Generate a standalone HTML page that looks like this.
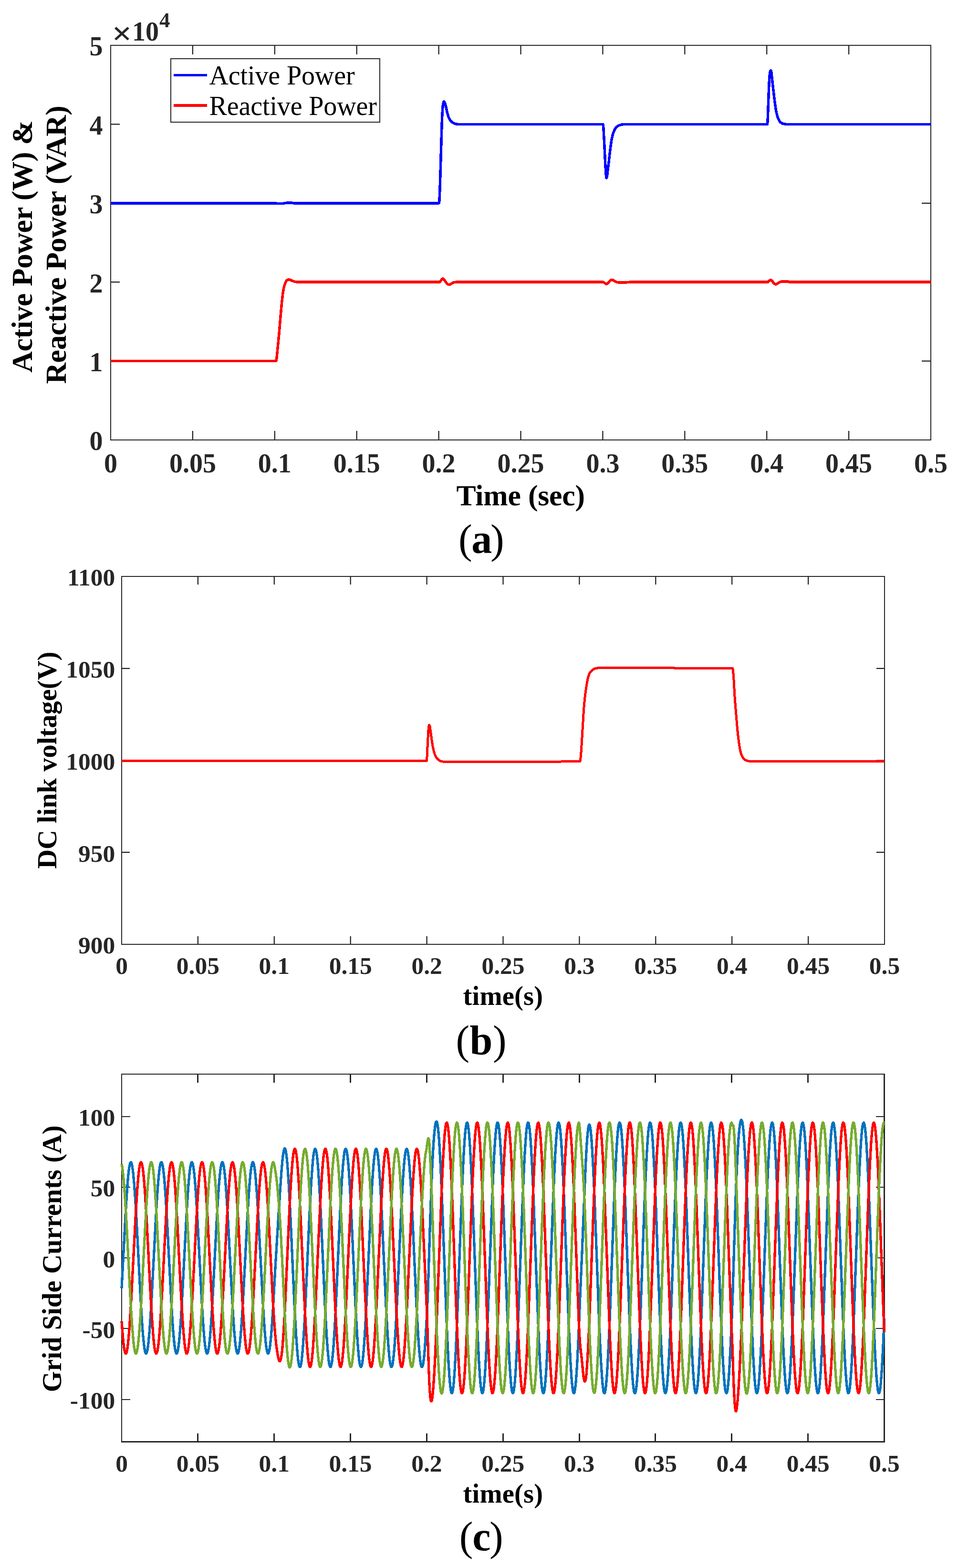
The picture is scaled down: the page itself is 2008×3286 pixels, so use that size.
<!DOCTYPE html>
<html lang="en"><head><meta charset="utf-8">
<meta name="viewport" content="width=2008">
<title>Active and reactive power, DC link voltage and grid side currents</title>
<style>
html,body{margin:0;padding:0;background:#fff;}
body{width:2008px;height:3286px;}
svg{display:block;font-family:'Liberation Serif', 'DejaVu Serif', serif;}
</style></head><body>
<svg role="img" aria-label="Simulation results: (a) active and reactive power, (b) DC link voltage, (c) grid side currents" width="2008" height="3286" viewBox="0 0 2008 3286">
<rect width="2008" height="3286" fill="#fff"/>
<g id="chart-a">
<path d="M403.9 922v-19M403.9 95v19M575.8 922v-19M575.8 95v19M747.7 922v-19M747.7 95v19M919.6 922v-19M919.6 95v19M1091.5 922v-19M1091.5 95v19M1263.4 922v-19M1263.4 95v19M1435.3 922v-19M1435.3 95v19M1607.2 922v-19M1607.2 95v19M1779.1 922v-19M1779.1 95v19" fill="none" stroke="#1c1c1c" stroke-width="2.2"/>
<path d="M232 756.6h19M1951 756.6h-19M232 591.2h19M1951 591.2h-19M232 425.8h19M1951 425.8h-19M232 260.4h19M1951 260.4h-19" fill="none" stroke="#1c1c1c" stroke-width="2.2"/>
<path d="M232 922V95H1951" fill="none" stroke="#262626" stroke-width="2" stroke-linecap="square"/>
<path d="M232 922H1951V95" fill="none" stroke="#262626" stroke-width="2" stroke-linecap="square"/>
<polyline points="232,425.8 575.8,425.8 577.5,425.9 581,426.5 582.5,426.7 592,426.7 593,426.6 596,425.8 599.5,425.3 602,425.2 612.2,425.2 615,425.7 616,425.8 920.2,425.8 920.5,424.4 920.8,421.8 921.2,414.6 922,396.4 923.2,358.4 926,263 926.8,242.8 927.5,230.4 928.2,221.5 928.8,218.2 929.5,214.7 930,213.2 930.2,212.9 930.5,212.8 931,213.1 931.5,213.8 932.5,215.7 933,217 935,224.6 937.2,235 938.2,238.9 940.2,245.4 941,247.3 942.2,249.7 943.8,252.2 945,253.8 946.5,255.2 948.2,256.6 950,257.7 952,258.6 954.5,259.5 956.5,260 959.5,260.3 962,260.4 1263.8,260.4 1264,260.9 1264.2,262.7 1264.8,267.6 1265.2,274.5 1266.5,297.6 1268.5,339.2 1270,364.6 1270.5,369.7 1271,372.4 1271.2,373 1271.5,372.8 1271.8,372 1272.5,368.4 1272.8,366.5 1273.8,357.4 1275.8,342 1278.2,320.5 1281,298.6 1282.2,291.4 1284,283.7 1285.2,279.4 1287,274.8 1288.8,271 1290.2,268.6 1292.2,266.4 1293.5,265.2 1294.5,264.5 1296.5,263.3 1299.8,262 1301.8,261.4 1303.5,261.1 1307,260.6 1309.5,260.4 1608.2,260.4 1608.5,259.2 1608.8,256.9 1609.2,250 1610.8,206.3 1611.8,181.2 1612.5,166.4 1613.2,157.4 1613.8,153 1614,151.4 1614.5,149.4 1615,148 1615.2,147.7 1615.5,147.6 1615.8,147.9 1616,148.5 1616.8,151.2 1617,152.8 1619.8,178.9 1623.8,212.2 1626,227.9 1626.8,232.3 1627.5,235.9 1629,242 1630.2,246.2 1631.2,248.8 1633,252.2 1634.5,254.6 1635.2,255.5 1636,256.2 1638.5,258 1639.8,258.7 1640.8,259.1 1642.2,259.5 1645.2,260 1647.5,260.3 1649.5,260.4 1951,260.4" fill="none" stroke="#0000ff" stroke-width="5.5" stroke-linejoin="round" stroke-linecap="butt" shape-rendering="crispEdges"/>
<polyline points="232,756.6 578.5,756.5 578.8,756 579,755.1 579.8,751.1 580.5,744.7 584.8,701 588.5,657.4 590.5,635.6 591.8,624 593.2,612.6 594.2,606.7 595.5,600.9 596.8,596.4 598,592.9 598.8,591.3 599.8,589.4 601,587.6 601.5,587.2 602.8,586.4 603.8,586 604.5,585.8 606,585.9 607.8,586.4 609.8,587.1 613,588.7 616.2,589.8 618.8,590.4 620.2,590.7 623,590.9 631,591.2 921.5,591.2 922,591 922.5,590.5 924.2,587.8 926.8,584.7 927.5,584.1 928.2,583.9 929,584.2 929.8,585 931.8,587.4 935.8,592.9 937,594.4 939.5,596.3 940.2,596.7 941,596.8 942,596.6 943,596.2 945,595.1 947.8,593.3 950.8,591.9 951.8,591.6 953,591.4 956,591.2 1264.2,591.2 1264.8,591.3 1265.5,591.7 1267.5,593.2 1270,594.7 1270.8,595.1 1271.5,595.2 1272,595.1 1272.5,594.8 1274.2,593.3 1278.2,588.8 1279.2,587.8 1281,586.6 1281.8,586.4 1282.2,586.3 1283,586.4 1284,586.8 1286.8,588.2 1289.5,589.8 1292.8,591.3 1293.8,591.6 1295,591.8 1298,592 1312.5,591.9 1318,591.3 1320,591.2 1609,591.2 1609.5,591.1 1610,590.7 1611.8,588.8 1612.5,588.2 1614.2,587.1 1615,586.9 1615.5,586.8 1616,586.9 1616.5,587.2 1618.2,588.8 1621.8,593.2 1622.8,594.2 1624.5,595.5 1625.2,595.8 1625.8,595.9 1626.5,595.8 1627.5,595.4 1630,593.9 1632.5,592.3 1635,591.1 1636.2,590.6 1637.5,590.3 1639,590 1640,589.9 1651.2,589.9 1652.2,590.2 1654,591 1655,591.2 1951,591.2" fill="none" stroke="#ff0000" stroke-width="5.5" stroke-linejoin="round" stroke-linecap="butt" shape-rendering="crispEdges"/>
<text x="232" y="990" font-size="56" font-weight="bold" text-anchor="middle" fill="#262626">0</text>
<text x="403.9" y="990" font-size="56" font-weight="bold" text-anchor="middle" fill="#262626">0.05</text>
<text x="575.8" y="990" font-size="56" font-weight="bold" text-anchor="middle" fill="#262626">0.1</text>
<text x="747.7" y="990" font-size="56" font-weight="bold" text-anchor="middle" fill="#262626">0.15</text>
<text x="919.6" y="990" font-size="56" font-weight="bold" text-anchor="middle" fill="#262626">0.2</text>
<text x="1091.5" y="990" font-size="56" font-weight="bold" text-anchor="middle" fill="#262626">0.25</text>
<text x="1263.4" y="990" font-size="56" font-weight="bold" text-anchor="middle" fill="#262626">0.3</text>
<text x="1435.3" y="990" font-size="56" font-weight="bold" text-anchor="middle" fill="#262626">0.35</text>
<text x="1607.2" y="990" font-size="56" font-weight="bold" text-anchor="middle" fill="#262626">0.4</text>
<text x="1779.1" y="990" font-size="56" font-weight="bold" text-anchor="middle" fill="#262626">0.45</text>
<text x="1951" y="990" font-size="56" font-weight="bold" text-anchor="middle" fill="#262626">0.5</text>
<text x="215.5" y="943.3" font-size="56" font-weight="bold" text-anchor="end" fill="#262626">0</text>
<text x="215.5" y="777.9" font-size="56" font-weight="bold" text-anchor="end" fill="#262626">1</text>
<text x="215.5" y="612.5" font-size="56" font-weight="bold" text-anchor="end" fill="#262626">2</text>
<text x="215.5" y="447.1" font-size="56" font-weight="bold" text-anchor="end" fill="#262626">3</text>
<text x="215.5" y="281.7" font-size="56" font-weight="bold" text-anchor="end" fill="#262626">4</text>
<text x="215.5" y="116.3" font-size="56" font-weight="bold" text-anchor="end" fill="#262626">5</text>
<text transform="translate(234.4 92.6) scale(1.08 1)" font-weight="bold" font-size="68.6" fill="#262626">×</text>
<text font-weight="bold" fill="#262626"><tspan x="277.1" y="85" font-size="56">10</tspan><tspan x="334" y="56.5" font-size="44.8">4</tspan></text>
<text x="1091.2" y="1059" font-size="61.6" font-weight="bold" text-anchor="middle" fill="#000" letter-spacing="-0.15">Time (sec)</text>
<text transform="translate(67 516.6) rotate(-90)" font-size="61.6" font-weight="bold" text-anchor="middle" fill="#000" letter-spacing="-0.33">Active Power (W) &amp;</text>
<text transform="translate(138 513) rotate(-90)" font-size="61.6" font-weight="bold" text-anchor="middle" fill="#000" letter-spacing="-0.32">Reactive Power (VAR)</text>
<rect x="358" y="123" width="438" height="133" fill="#fff" stroke="#262626" stroke-width="2"/>
<path d="M364 157.6H434" stroke="#0000ff" stroke-width="5.5" shape-rendering="crispEdges"/>
<path d="M364 221H434" stroke="#ff0000" stroke-width="5.5" shape-rendering="crispEdges"/>
<text x="438.5" y="177.2" font-size="56" font-weight="normal" text-anchor="start" fill="#000" letter-spacing="-0.12">Active Power</text>
<text x="438.5" y="241.2" font-size="56" font-weight="normal" text-anchor="start" fill="#000" letter-spacing="-0.12">Reactive Power</text>
</g>
<text font-size="86" fill="#000" text-anchor="middle"><tspan x="975.2" y="1159">(</tspan><tspan x="1009.7" font-weight="bold">a</tspan><tspan x="1042.4">)</tspan></text>
<g id="chart-b">
<path d="M414.9 1979v-17M414.9 1208v17M574.8 1979v-17M574.8 1208v17M734.7 1979v-17M734.7 1208v17M894.6 1979v-17M894.6 1208v17M1054.5 1979v-17M1054.5 1208v17M1214.4 1979v-17M1214.4 1208v17M1374.3 1979v-17M1374.3 1208v17M1534.2 1979v-17M1534.2 1208v17M1694.1 1979v-17M1694.1 1208v17" fill="none" stroke="#1c1c1c" stroke-width="2.2"/>
<path d="M255 1786.2h17M1854 1786.2h-17M255 1593.5h17M1854 1593.5h-17M255 1400.8h17M1854 1400.8h-17" fill="none" stroke="#1c1c1c" stroke-width="2.2"/>
<path d="M255 1979V1208H1854" fill="none" stroke="#262626" stroke-width="2" stroke-linecap="square"/>
<path d="M255 1979H1854V1208" fill="none" stroke="#262626" stroke-width="2" stroke-linecap="square"/>
<polyline points="255,1594.6 542,1594.4 608.5,1594.3 700,1594 894,1594.6 894.2,1594.5 894.5,1592.9 895,1586.6 896.8,1549.2 897.8,1533 898.2,1526.9 898.8,1522.8 899.2,1520.5 899.5,1519.8 899.8,1519.4 900,1519.5 900.5,1520.7 901,1522.4 901.2,1523.6 904.5,1547.1 906.2,1558.9 907.2,1564.9 909,1572.9 910,1576.7 911,1580 912.2,1583.1 913.8,1586.2 915.2,1588.5 917,1590.5 919,1592.4 920.8,1593.7 923.8,1595 926,1595.8 927.8,1596 934.8,1596.2 1127.2,1596.2 1175.8,1596 1215.8,1595.4 1216,1595.1 1216.2,1593.9 1217,1588.4 1218.2,1574.2 1219.2,1559.3 1223.5,1488 1224.8,1472.8 1226.2,1459 1227.8,1447.4 1229,1439 1231,1427.5 1232.2,1421.5 1232.8,1419.5 1233.8,1416.3 1235.2,1412.2 1236,1410.6 1236.8,1409.3 1238.5,1407.1 1240,1405.7 1243.2,1403.1 1244.5,1402.2 1245.8,1401.5 1248,1400.8 1251,1400.2 1254.2,1399.8 1259,1399.3 1400,1399.3 1404.5,1399.4 1414.8,1400.1 1419.5,1400.3 1520.5,1400.4 1535.2,1400.4 1535.5,1400.5 1535.8,1401.2 1536,1402.5 1536.5,1405.7 1537.2,1413.6 1538.2,1428 1539.5,1451.3 1540.2,1463 1541.5,1479.7 1544.8,1519.6 1545.8,1530.5 1546.8,1539.8 1547.8,1548.2 1549,1557.4 1550.5,1567.2 1551.5,1572.5 1553,1578.3 1554.2,1582 1555.2,1584.3 1556.2,1586.2 1557.2,1587.9 1558,1588.9 1559.2,1590.3 1560.8,1591.7 1562,1592.6 1563.2,1593.3 1566.2,1594.4 1569,1595 1572.8,1595.3 1577.2,1595.4 1854,1595.4" fill="none" stroke="#ff0000" stroke-width="5" stroke-linejoin="round" stroke-linecap="butt" shape-rendering="crispEdges"/>
<text x="255" y="2041" font-size="51.5" font-weight="bold" text-anchor="middle" fill="#262626">0</text>
<text x="414.9" y="2041" font-size="51.5" font-weight="bold" text-anchor="middle" fill="#262626">0.05</text>
<text x="574.8" y="2041" font-size="51.5" font-weight="bold" text-anchor="middle" fill="#262626">0.1</text>
<text x="734.7" y="2041" font-size="51.5" font-weight="bold" text-anchor="middle" fill="#262626">0.15</text>
<text x="894.6" y="2041" font-size="51.5" font-weight="bold" text-anchor="middle" fill="#262626">0.2</text>
<text x="1054.5" y="2041" font-size="51.5" font-weight="bold" text-anchor="middle" fill="#262626">0.25</text>
<text x="1214.4" y="2041" font-size="51.5" font-weight="bold" text-anchor="middle" fill="#262626">0.3</text>
<text x="1374.3" y="2041" font-size="51.5" font-weight="bold" text-anchor="middle" fill="#262626">0.35</text>
<text x="1534.2" y="2041" font-size="51.5" font-weight="bold" text-anchor="middle" fill="#262626">0.4</text>
<text x="1694.1" y="2041" font-size="51.5" font-weight="bold" text-anchor="middle" fill="#262626">0.45</text>
<text x="1854" y="2041" font-size="51.5" font-weight="bold" text-anchor="middle" fill="#262626">0.5</text>
<text x="241.2" y="1998.2" font-size="51.5" font-weight="bold" text-anchor="end" fill="#262626">900</text>
<text x="241.2" y="1805.5" font-size="51.5" font-weight="bold" text-anchor="end" fill="#262626">950</text>
<text x="241.2" y="1612.7" font-size="51.5" font-weight="bold" text-anchor="end" fill="#262626">1000</text>
<text x="241.2" y="1420" font-size="51.5" font-weight="bold" text-anchor="end" fill="#262626">1050</text>
<text x="241.2" y="1227.2" font-size="51.5" font-weight="bold" text-anchor="end" fill="#262626">1100</text>
<text x="1054.4" y="2106.3" font-size="56.5" font-weight="bold" text-anchor="middle" fill="#000" letter-spacing="0.2">time(s)</text>
<text transform="translate(118.2 1593.3) rotate(-90)" font-size="56.5" font-weight="bold" text-anchor="middle" fill="#000">DC link voltage(V)</text>
</g>
<text font-size="86" fill="#000" text-anchor="middle"><tspan x="969.8" y="2209.4">(</tspan><tspan x="1008.5" font-weight="bold">b</tspan><tspan x="1047.2">)</tspan></text>
<g id="chart-c">
<path d="M414.5 3021.5v-17.5M414.5 2251v17.5M574.5 3021.5v-17.5M574.5 2251v17.5M734.5 3021.5v-17.5M734.5 2251v17.5M894.5 3021.5v-17.5M894.5 2251v17.5M1054.5 3021.5v-17.5M1054.5 2251v17.5M1214.5 3021.5v-17.5M1214.5 2251v17.5M1373.5 3021.5v-17.5M1373.5 2251v17.5M1533.5 3021.5v-17.5M1533.5 2251v17.5M1693.5 3021.5v-17.5M1693.5 2251v17.5" fill="none" stroke="#262626" stroke-width="3" shape-rendering="crispEdges"/>
<path d="M255 2932.5h17.5M1853.5 2932.5h-17.5M255 2784.4h17.5M1853.5 2784.4h-17.5M255 2636.2h17.5M1853.5 2636.2h-17.5M255 2488h17.5M1853.5 2488h-17.5M255 2339.8h17.5M1853.5 2339.8h-17.5" fill="none" stroke="#262626" stroke-width="2" shape-rendering="crispEdges"/>
<path d="M255 3021.5V2251H1853.5" fill="none" stroke="#262626" stroke-width="2" stroke-linecap="square" shape-rendering="crispEdges"/>
<path d="M255 3021.5H1853.5V2251" fill="none" stroke="#262626" stroke-width="3" stroke-linecap="square" shape-rendering="crispEdges"/>
<polyline points="255,2699.6 262.8,2550.8 265,2513.1 267,2484.6 268.2,2469.7 269.2,2459.5 270.2,2451.1 271.2,2444.4 272.5,2438.7 273,2437.3 273.5,2436.3 274,2435.8 274.5,2435.8 275,2436.3 275.5,2437.2 276.2,2439.5 277.2,2444.3 278.2,2450.9 279.2,2459.3 281,2478.1 283,2505.2 284.8,2533.1 286.5,2564.1 292.8,2685.1 295,2726.5 297.2,2763.6 299.2,2791.4 300.5,2805.7 301.5,2815.4 302.5,2823.4 303.5,2829.5 304.2,2832.9 304.8,2834.6 305.2,2835.8 305.8,2836.5 306.2,2836.7 306.8,2836.4 307.2,2835.7 307.8,2834.4 308.5,2831.7 309.5,2826.4 310.2,2821.2 311.2,2812.8 313,2793.9 315,2766.7 316.8,2738.8 318.5,2707.8 326.8,2549.8 329,2512.2 331,2483.8 333,2461.3 334,2452.5 335,2445.5 336,2440.4 337,2437.1 337.5,2436.2 338,2435.8 338.2,2435.7 338.8,2436 339.2,2436.8 339.8,2438 340.8,2442 341.8,2447.8 342.8,2455.4 343.8,2464.8 344.8,2475.8 346.8,2502.4 348.5,2529.9 350.5,2565.2 356.8,2686.2 359,2727.6 361.2,2764.5 363.2,2792.1 365.2,2813.7 366.2,2822 367.2,2828.5 368.2,2833.1 368.8,2834.7 369.2,2835.9 369.8,2836.5 370.2,2836.7 370.5,2836.6 371,2836 371.8,2834.3 372.8,2830.3 373.8,2824.4 374.8,2816.7 375.8,2807.3 376.8,2796.2 378.8,2769.5 380.5,2741.9 382.5,2706.7 390.8,2548.7 393,2511.3 395,2483.1 397,2460.7 398,2452.1 398.8,2446.7 399.8,2441.2 400.8,2437.6 401.2,2436.5 401.8,2435.9 402.2,2435.7 402.5,2435.8 403,2436.4 403.5,2437.5 404.5,2441.1 405.5,2446.6 406.5,2453.8 407.5,2462.9 408.5,2473.6 410.5,2499.7 412.2,2526.8 414.2,2561.7 420.8,2687.4 423,2728.6 425.2,2765.4 427.2,2792.8 429.2,2814.3 430.2,2822.4 431,2827.4 432,2832.4 433,2835.5 433.5,2836.3 434,2836.7 434.2,2836.7 434.8,2836.3 435.5,2834.8 436.5,2831.2 437.5,2825.7 438.5,2818.3 439.5,2809.2 440.5,2798.4 442.5,2772.3 444.2,2745.1 446.2,2710.1 454.8,2547.6 457,2510.4 459,2482.3 461,2460.2 462,2451.6 462.8,2446.4 463.8,2440.9 464.5,2438.1 465,2436.8 465.5,2436 466,2435.7 466.2,2435.7 466.8,2436.2 467.2,2437 468.2,2440.3 469.2,2445.4 470.2,2452.3 471.2,2461 472.2,2471.5 474.2,2496.9 476.2,2527.8 478.2,2562.8 484.8,2688.5 487,2729.7 489,2762.5 491,2790.5 493,2812.5 494,2821 494.8,2826.2 495.8,2831.6 496.8,2835 497.2,2836.1 497.8,2836.6 498,2836.7 498.5,2836.5 499,2835.8 499.5,2834.6 500.5,2830.9 501.5,2825.3 502.5,2817.8 503.5,2808.6 504.5,2797.7 506.5,2771.4 508.2,2744.1 510.2,2709 518.8,2546.6 521,2509.4 523,2481.5 525,2459.6 526,2451.2 526.8,2446 527.8,2440.7 528.5,2437.9 529,2436.7 529.5,2436 530,2435.7 530.2,2435.8 530.8,2436.2 531.2,2437.2 532.2,2440.5 533.2,2445.7 534.2,2452.8 535.2,2461.6 536.2,2472.1 538.2,2497.8 540,2524.7 542,2559.3 550.8,2726.3 553,2763.4 555,2791.2 557,2813.1 558,2821.5 558.8,2826.6 559.8,2831.8 560.8,2835.2 561.2,2836.2 561.8,2836.6 562,2836.7 562.5,2836.4 563.2,2835.1 564.2,2831.8 565.2,2826.5 566.2,2819.4 568,2802.7 570,2777.7 572.2,2743.1 577,2657.2 582.2,2572.1 587.2,2493.6 590.2,2451.5 592,2431.7 593,2422.7 593.8,2417.2 594.8,2411.6 595.5,2408.7 596.2,2407.1 596.8,2406.7 597,2406.7 597.5,2407.2 598,2408.3 599,2412 600,2418 601,2426.1 602,2436.4 603,2448.6 605,2478.4 606.8,2509.7 608.8,2549.9 617.2,2735.9 619.5,2778.6 621.5,2810.8 623.5,2836.3 624.5,2846.1 625.2,2852.2 626.2,2858.5 627.2,2862.7 627.8,2863.9 628.2,2864.6 628.8,2864.8 629,2864.6 629.5,2864 630,2862.7 631,2858.7 632,2852.4 633,2844.1 634,2833.8 635,2821.6 637,2791.9 638.8,2760.9 640.8,2721.1 647.2,2577.9 649.5,2530.8 651.5,2493.2 653.5,2461.2 655.5,2435.8 656.5,2426 657.2,2420 658.2,2413.7 659,2410.5 659.5,2409 660,2408 660.5,2407.6 660.8,2407.6 661.2,2408.1 661.8,2409.1 662.8,2412.7 663.8,2418.4 664.8,2426.3 665.8,2436.2 666.8,2448 669,2481 670.8,2512 672.8,2551.9 681.2,2737.2 683.5,2779.7 685.5,2811.7 687.5,2836.9 688.5,2846.7 689.2,2852.7 690.2,2858.8 691,2862 691.5,2863.5 692,2864.4 692.5,2864.8 692.8,2864.8 693.2,2864.3 693.8,2863.3 694.8,2859.6 695.8,2853.8 696.8,2845.8 697.8,2835.9 698.8,2824 700.8,2795 702.8,2759.8 704.8,2719.9 711.2,2576.6 713.5,2529.6 715.5,2492.2 717.5,2460.3 719.5,2435.2 720.5,2425.5 721.2,2419.5 722.2,2413.4 723,2410.3 723.5,2408.8 724,2407.9 724.5,2407.6 724.8,2407.7 725.2,2408.2 725.8,2409.2 726.8,2412.9 727.8,2418.8 728.8,2426.8 729.8,2436.8 730.8,2448.8 732.8,2477.9 734.8,2513.2 736.8,2553.2 745.2,2738.4 747.5,2780.7 749.5,2812.5 751.5,2837.5 752.5,2847.2 753.2,2853.1 754.2,2859.1 755,2862.2 755.5,2863.6 756,2864.5 756.5,2864.8 756.8,2864.7 757.2,2864.2 757.8,2863.1 758.8,2859.3 759.8,2853.4 760.8,2845.3 761.8,2835.2 762.8,2823.3 764.8,2794 766.5,2763.4 768.5,2723.8 777.2,2533.4 779.5,2491.1 781.5,2459.4 783.2,2437.2 784.2,2427.2 785,2420.9 786,2414.4 786.8,2410.9 787.2,2409.3 787.8,2408.2 788.2,2407.7 788.5,2407.6 789,2407.9 789.5,2408.7 790.5,2412.1 791.5,2417.6 792.5,2425.1 793.5,2434.8 794.5,2446.4 796.8,2478.9 798.5,2509.6 800.5,2549.2 809.2,2739.6 811.5,2781.8 813.5,2813.4 815.5,2838.2 816.5,2847.7 817.2,2853.5 818.2,2859.4 819,2862.4 819.5,2863.8 820,2864.6 820.5,2864.8 820.8,2864.7 821.2,2864.1 821.8,2862.9 822.8,2859 823.8,2852.9 824.8,2844.8 825.8,2834.6 826.8,2822.5 828.8,2793 830.5,2762.2 832.5,2722.6 839,2579.4 841.2,2532.2 843.2,2494.5 845.2,2462.2 847.2,2436.6 848.2,2426.6 849,2420.5 850,2414.1 850.8,2410.7 851.2,2409.1 851.8,2408.1 852.2,2407.7 852.5,2407.6 853,2408 853.5,2408.9 854.5,2412.3 855.5,2417.9 856.5,2425.7 857.5,2435.4 858.5,2447.1 860.8,2479.9 862.5,2510.7 864.5,2550.4 871,2693.7 873.2,2740.8 875.5,2782.8 877.5,2814.2 879.5,2838.8 880.5,2848.2 881.2,2853.9 882.2,2859.7 883,2862.6 883.5,2863.9 884,2864.6 884.5,2864.8 884.8,2864.6 885.2,2864 885.8,2862.8 886.8,2858.7 887.8,2852.5 888.8,2844.2 889.8,2833.9 891,2818.4 893.2,2783.6 895,2751.1 896.8,2710.3 898,2674.3 901,2577.7 902.8,2525.5 904.8,2473 906.5,2434 908.5,2398.6 909.5,2384.7 910.8,2370.5 911.8,2361.8 913,2354.4 913.5,2352.4 914,2351.1 914.5,2350.4 915,2350.4 915.5,2350.9 916,2352.2 917,2356.5 918,2363.4 919,2372.8 920,2384.6 921,2398.8 923.2,2438.7 925.2,2482.3 927.2,2531.8 933.8,2709.5 936,2767.8 938,2814.3 940,2853.9 942,2885.2 943,2897.3 943.8,2904.7 944.8,2912.4 945.5,2916.3 946,2918.1 946.5,2919.3 947,2919.7 947.2,2919.7 947.8,2919.1 948.2,2917.8 949.2,2913.3 950.2,2906 951.2,2896.2 952.2,2883.8 953.2,2869.1 955.2,2833 957.2,2789.4 959.2,2739.8 965.8,2562.1 968,2503.9 970,2457.5 972,2417.9 974,2386.8 975,2374.8 975.8,2367.4 976.8,2359.8 977.5,2355.9 978,2354.2 978.5,2353.1 979,2352.7 979.2,2352.7 979.8,2353.4 980.2,2354.7 981.2,2359.3 982.2,2366.6 983.2,2376.6 984.2,2389 985.2,2403.8 987.2,2440 989.2,2483.7 991.2,2533.3 999.8,2763.1 1002,2815.6 1004,2855 1006,2886 1007,2898 1007.8,2905.3 1008.8,2912.7 1009.5,2916.6 1010,2918.3 1010.5,2919.4 1011,2919.7 1011.2,2919.6 1011.8,2919 1012.2,2917.6 1013.2,2912.9 1014.2,2905.5 1015.2,2895.5 1016.2,2883 1017.2,2868.1 1019.2,2831.8 1021,2793.8 1023,2744.8 1031.8,2508.6 1034,2456.2 1036,2416.9 1037.8,2389.3 1038.8,2376.9 1039.5,2369.1 1040.5,2361.1 1041.2,2356.8 1041.8,2354.8 1042.2,2353.4 1042.8,2352.8 1043,2352.7 1043.5,2353 1044,2354.1 1045,2358.2 1046,2365 1047,2374.5 1048,2386.4 1049,2400.8 1051.2,2441.2 1053,2479.3 1055,2528.4 1061.5,2706 1063.8,2764.6 1066,2816.9 1068,2856.1 1069.8,2883.5 1070.8,2895.9 1071.5,2903.6 1072.5,2911.5 1073.2,2915.8 1073.8,2917.7 1074.2,2919 1074.8,2919.7 1075,2919.7 1075.5,2919.3 1076,2918.2 1077,2914 1078,2907.1 1079,2897.6 1080,2885.6 1081,2871.1 1083.2,2830.6 1085,2792.4 1087,2743.2 1093.5,2565.6 1095.8,2507.1 1098,2454.9 1100,2415.8 1101.8,2388.5 1102.8,2376.2 1103.5,2368.6 1104.5,2360.7 1105.2,2356.5 1105.8,2354.6 1106.2,2353.3 1106.8,2352.7 1107,2352.7 1107.5,2353.1 1108,2354.3 1109,2358.6 1110,2365.5 1111,2375.1 1112,2387.2 1113,2401.7 1115.2,2442.4 1117,2480.7 1119,2530 1125.5,2707.6 1127.8,2766.1 1130,2818.2 1132,2857.1 1133.8,2884.3 1134.8,2896.5 1135.5,2904.1 1136.5,2911.9 1137.2,2916 1137.8,2917.9 1138.2,2919.2 1138.8,2919.7 1139,2919.7 1139.5,2919.2 1140,2918 1141,2913.7 1142,2906.6 1143,2896.9 1144,2884.8 1145,2870.2 1147.2,2829.4 1149,2791 1151,2741.7 1157.5,2564 1159.8,2505.6 1161.8,2459 1163.8,2419.2 1165.8,2387.7 1166.8,2375.5 1167.5,2368 1168.5,2360.3 1169.2,2356.2 1169.8,2354.4 1170.2,2353.2 1170.8,2352.7 1171,2352.7 1171.5,2353.2 1172,2354.4 1173,2358.9 1174,2366 1175,2375.8 1176,2388 1177,2402.7 1179.2,2443.6 1181,2482.1 1183,2531.5 1191.5,2761.3 1193.8,2814.1 1195.8,2853.8 1197.8,2885.1 1198.8,2897.2 1199.5,2904.6 1200.5,2912.3 1201.2,2916.3 1201.8,2918.1 1202.2,2919.3 1202.8,2919.7 1203,2919.7 1203.2,2919.5 1203.8,2918.6 1204.5,2915.9 1205.2,2911.8 1206.2,2903.9 1207,2896.3 1208,2884 1209.8,2856.7 1211.2,2828.2 1212.8,2795.4 1216.2,2710.4 1220.2,2619.7 1225.8,2481.7 1228.2,2427 1230,2396.3 1231,2382.7 1231.8,2374.2 1232.8,2365.6 1233.5,2361 1234,2358.9 1234.5,2357.5 1235,2356.9 1235.2,2356.9 1235.5,2357 1236,2357.9 1236.5,2359.4 1237,2361.7 1238,2368.5 1239,2378 1240,2390.1 1241,2404.6 1243.2,2445.4 1245,2483.9 1247,2533.3 1255.5,2763 1257.8,2815.5 1259.8,2854.9 1261.8,2885.9 1262.8,2897.8 1263.5,2905.2 1264.5,2912.7 1265.2,2916.6 1265.8,2918.3 1266.2,2919.3 1266.8,2919.7 1267,2919.7 1267.5,2919 1268,2917.7 1269,2913 1270,2905.6 1271,2895.6 1272,2883.1 1273,2868.3 1275,2832 1276.8,2794 1278.8,2745 1287.5,2508.8 1289.8,2456.4 1291.8,2417 1293.5,2389.5 1294.5,2377 1295.2,2369.2 1296.2,2361.1 1297,2356.8 1297.5,2354.8 1298,2353.4 1298.5,2352.8 1298.8,2352.7 1299.2,2353 1299.8,2354.1 1300.2,2355.8 1300.8,2358.2 1301.8,2365 1302.8,2374.4 1303.8,2386.3 1304.8,2400.7 1307,2441 1308.8,2479.1 1310.8,2528.2 1319.5,2764.3 1321.8,2816.7 1323.8,2855.9 1325.5,2883.3 1326.5,2895.8 1327.2,2903.5 1328.2,2911.5 1329,2915.7 1329.5,2917.7 1330,2919 1330.5,2919.7 1330.8,2919.7 1331.2,2919.3 1331.8,2918.3 1332.8,2914.1 1333.8,2907.2 1334.8,2897.7 1335.8,2885.7 1336.8,2871.3 1339,2830.8 1340.8,2792.6 1342.8,2743.5 1349.2,2565.8 1351.5,2507.3 1353.8,2455.1 1355.8,2416 1357.5,2388.7 1358.5,2376.3 1359.2,2368.7 1360.2,2360.7 1361,2356.5 1361.5,2354.6 1362,2353.3 1362.5,2352.7 1362.8,2352.7 1363.2,2353.1 1363.8,2354.2 1364.8,2358.5 1365.8,2365.5 1366.8,2375 1367.8,2387.1 1368.8,2401.6 1371,2442.2 1372.8,2480.5 1374.8,2529.7 1381.2,2707.4 1383.5,2765.8 1385.8,2818 1387.8,2857 1389.5,2884.1 1390.5,2896.4 1391.2,2904 1392.2,2911.9 1393,2916 1393.5,2917.9 1394,2919.1 1394.5,2919.7 1394.8,2919.7 1395.2,2919.2 1395.8,2918.1 1396.8,2913.7 1397.8,2906.7 1398.8,2897.1 1399.8,2884.9 1400.8,2870.3 1403,2829.6 1404.8,2791.2 1406.8,2741.9 1413.2,2564.2 1415.5,2505.8 1417.5,2459.2 1419.5,2419.3 1421.5,2387.9 1422.5,2375.6 1423.2,2368.1 1424.2,2360.4 1425,2356.3 1425.5,2354.4 1426,2353.2 1426.5,2352.7 1426.8,2352.7 1427.2,2353.2 1427.8,2354.4 1428.8,2358.8 1429.8,2366 1430.8,2375.7 1431.8,2387.9 1432.8,2402.5 1435,2443.4 1436.8,2481.9 1438.8,2531.3 1445.2,2709 1447.5,2767.3 1449.5,2813.9 1451.5,2853.6 1453.5,2884.9 1454.5,2897.1 1455.2,2904.6 1456.2,2912.2 1457,2916.3 1457.5,2918.1 1458,2919.2 1458.5,2919.7 1458.8,2919.7 1459.2,2919.1 1459.8,2917.9 1460.8,2913.4 1461.8,2906.2 1462.8,2896.4 1463.8,2884.1 1464.8,2869.4 1467,2828.4 1468.8,2789.8 1470.8,2740.4 1479.2,2510.6 1481.5,2457.9 1483.5,2418.3 1485.5,2387.1 1486.5,2375 1487.2,2367.6 1488.2,2360 1489,2356 1489.5,2354.2 1490,2353.1 1490.5,2352.7 1490.8,2352.7 1491.2,2353.3 1491.8,2354.6 1492.8,2359.2 1493.8,2366.5 1494.8,2376.3 1495.8,2388.7 1496.8,2403.5 1498.8,2439.6 1500.8,2483.3 1502.8,2532.8 1509.2,2710.6 1511.5,2768.8 1513.5,2815.2 1515.5,2854.7 1517.5,2885.7 1518.5,2897.7 1519.2,2905.1 1520.2,2912.6 1521,2916.5 1521.5,2918.3 1522,2919.3 1522.5,2919.7 1522.8,2919.7 1523.2,2919 1523.8,2917.7 1524.8,2913 1525.8,2905.7 1527,2892.8 1528,2879.8 1529.2,2860.2 1531.5,2816.6 1533.8,2764.2 1535.8,2711.6 1540.2,2564.5 1542.5,2497.2 1544.2,2454.4 1546.2,2414 1548,2386.2 1549,2374 1550,2364 1551,2356.4 1552,2351.1 1553,2347.9 1553.5,2347.1 1554,2347 1554.5,2347.5 1555,2348.5 1556,2352.4 1557,2358.6 1557.8,2365 1559.5,2385 1561.5,2416.3 1563.5,2455.8 1565.8,2508.4 1574.2,2738.3 1576.5,2794 1578.2,2832.1 1580.5,2872.3 1581.5,2886.5 1582.5,2898.4 1583.5,2907.7 1584.5,2914.4 1585,2916.8 1585.5,2918.4 1586,2919.4 1586.5,2919.7 1587,2919.3 1587.5,2918.3 1588.5,2914.1 1589.5,2907.3 1590.5,2897.8 1591.5,2885.8 1592.5,2871.4 1594.8,2831 1596.5,2792.9 1598.5,2743.7 1605,2566.1 1607.2,2507.6 1609.5,2455.3 1611.5,2416.1 1613.2,2388.8 1614.2,2376.4 1615,2368.8 1616,2360.8 1616.8,2356.6 1617.2,2354.6 1617.8,2353.3 1618.2,2352.7 1618.5,2352.7 1619,2353.1 1619.5,2354.2 1620.5,2358.4 1621.5,2365.4 1622.5,2374.9 1623.5,2387 1624.5,2401.4 1626.8,2442 1628.5,2480.2 1630.5,2529.5 1637,2707.1 1639.2,2765.6 1641.5,2817.7 1643.5,2856.8 1645.2,2884 1646.2,2896.3 1647,2903.9 1648,2911.8 1648.8,2915.9 1649.2,2917.9 1649.8,2919.1 1650.2,2919.7 1650.5,2919.7 1651,2919.3 1651.5,2918.1 1652.5,2913.8 1653.5,2906.8 1654.5,2897.2 1655.5,2885 1656.5,2870.5 1658.8,2829.8 1660.5,2791.5 1662.5,2742.2 1669,2564.5 1671.2,2506.1 1673.2,2459.4 1675.2,2419.5 1677.2,2388 1678.2,2375.7 1679,2368.2 1680,2360.4 1680.8,2356.3 1681.2,2354.4 1681.8,2353.2 1682.2,2352.7 1682.5,2352.7 1683,2353.2 1683.5,2354.4 1684.5,2358.8 1685.5,2365.9 1686.5,2375.6 1687.5,2387.8 1688.5,2402.4 1690.8,2443.2 1692.5,2481.6 1694.5,2531 1701,2708.7 1703.2,2767.1 1705.2,2813.6 1707.2,2853.4 1709.2,2884.8 1710.2,2897 1711,2904.5 1712,2912.2 1712.8,2916.2 1713.2,2918.1 1713.8,2919.2 1714.2,2919.7 1714.5,2919.7 1715,2919.2 1715.5,2917.9 1716.5,2913.4 1717.5,2906.3 1718.5,2896.5 1719.5,2884.2 1720.5,2869.6 1722.8,2828.6 1724.5,2790.1 1726.5,2740.6 1735,2510.8 1737.2,2458.1 1739.2,2418.5 1741.2,2387.2 1742.2,2375.1 1743,2367.7 1744,2360 1744.8,2356.1 1745.2,2354.3 1745.8,2353.1 1746.2,2352.7 1746.5,2352.7 1747,2353.3 1747.5,2354.6 1748.5,2359.1 1749.5,2366.4 1750.5,2376.2 1751.5,2388.6 1752.5,2403.3 1754.5,2439.4 1756.5,2483 1758.5,2532.6 1765,2710.3 1767.2,2768.5 1769.2,2814.9 1771.2,2854.5 1773,2882.2 1774.8,2902.7 1775.8,2910.9 1776.5,2915.3 1777,2917.4 1777.5,2918.9 1778,2919.6 1778.2,2919.7 1778.5,2919.7 1779,2919 1779.5,2917.7 1780,2915.7 1780.8,2911.5 1781.8,2903.5 1782.5,2895.8 1783.5,2883.4 1785.2,2856 1787.2,2816.8 1789.5,2764.5 1798.2,2528.3 1800.2,2479.2 1802,2441.1 1804.2,2400.8 1805.2,2386.4 1806.2,2374.4 1807.2,2365 1808.2,2358.2 1809.2,2354.1 1809.8,2353 1810.2,2352.7 1810.5,2352.8 1811,2353.4 1811.5,2354.8 1812,2356.8 1813,2362.9 1814,2371.6 1815,2382.8 1816,2396.5 1818,2430.7 1820,2472.9 1822,2521.2 1829.5,2725.3 1832.5,2799.6 1834.2,2836.9 1835.8,2864.1 1837.2,2886.4 1838.8,2903.3 1839.8,2911.3 1840.5,2915.6 1841,2917.6 1841.5,2919 1842,2919.6 1842.2,2919.7 1842.5,2919.6 1843,2918.9 1843.5,2917.5 1844,2915.5 1844.8,2911.1 1845.8,2903 1847.5,2882.6 1849.5,2850.5 1851.5,2810.1 1853.5,2763" fill="none" stroke="#0072bd" stroke-width="5.3" stroke-linejoin="round" stroke-linecap="butt" shape-rendering="crispEdges"/>
<polyline points="255,2769.2 256.8,2792.9 258.5,2812 259.5,2820.6 260.2,2825.9 261,2830.2 261.8,2833.4 262.5,2835.5 263.2,2836.6 263.5,2836.7 264,2836.5 264.8,2835.4 265.5,2833.2 266.2,2829.9 267,2825.6 268,2818.3 269.2,2806.6 270.8,2789.2 272.2,2768.6 273.8,2745 276.5,2696.1 283.8,2556.5 285.8,2522.1 287.8,2492.1 290,2465 291,2455.6 292,2447.9 293,2442.1 294,2438.1 294.5,2436.8 295,2436 295.5,2435.7 296,2435.9 296.5,2436.6 297,2437.7 298,2441.4 299,2447 300,2454.4 301,2463.6 302,2474.4 304,2500.6 305.8,2527.9 307.8,2562.9 314.2,2688.6 316.5,2729.8 318.8,2766.4 321,2796.7 322.2,2810.2 323.2,2819.1 324.2,2826.3 325.2,2831.6 326.2,2835.1 326.8,2836.1 327.2,2836.6 327.8,2836.6 328.2,2836.2 328.8,2835.3 329.2,2833.9 330,2830.9 331,2825.2 331.8,2819.8 332.8,2811 334.5,2791.6 336.5,2763.9 338.2,2735.6 340,2704.3 348,2550.9 350.2,2513.2 352.2,2484.6 354.2,2461.9 356,2447.5 357,2441.8 358,2437.9 358.5,2436.7 359,2436 359.5,2435.7 359.8,2435.8 360.2,2436.2 360.8,2437.2 361.8,2440.5 362.8,2445.8 363.8,2452.8 364.8,2461.7 365.8,2472.2 367.8,2497.9 369.5,2524.8 371.5,2559.5 378.2,2689.8 380.5,2730.8 382.8,2767.3 384.8,2794.4 386.8,2815.4 387.8,2823.3 388.8,2829.5 389.8,2833.8 390.2,2835.2 390.8,2836.2 391.2,2836.6 391.5,2836.7 392,2836.4 392.5,2835.7 393.2,2833.7 394.2,2829.3 395.2,2823.1 396.2,2815.1 398.2,2794 400.2,2766.8 402,2738.8 403.8,2707.8 412,2549.8 414.2,2512.3 416.2,2483.9 418.2,2461.4 419.2,2452.6 420,2447.1 421,2441.5 421.8,2438.5 422.2,2437.1 422.8,2436.2 423.2,2435.8 423.5,2435.7 424,2436 424.5,2436.8 425.5,2439.8 426.5,2444.6 427.5,2451.4 428.5,2459.9 429.5,2470.1 431.8,2498.7 433.5,2525.8 435.5,2560.5 442,2686.1 444.2,2727.5 446.5,2764.4 448.5,2792.1 450.5,2813.7 451.5,2822 452.5,2828.5 453.5,2833.1 454,2834.7 454.5,2835.9 455,2836.5 455.5,2836.7 455.8,2836.6 456.2,2836 457,2834.3 458,2830.3 459,2824.4 460,2816.7 461,2807.3 462,2796.2 464,2769.6 465.8,2742 467.8,2706.7 476,2548.8 478.2,2511.3 480.2,2483.1 482.2,2460.8 483.2,2452.1 484,2446.8 485,2441.2 485.8,2438.3 486.2,2437 486.8,2436.1 487.2,2435.7 487.5,2435.7 488,2436.1 488.5,2436.9 489.5,2440 490.5,2445 491.5,2451.8 492.5,2460.4 493.5,2470.8 495.8,2499.6 497.5,2526.7 499.5,2561.6 506,2687.3 508.2,2728.6 510.5,2765.3 512.5,2792.8 514.5,2814.2 515.5,2822.4 516.2,2827.4 517.2,2832.4 518.2,2835.5 518.8,2836.3 519.2,2836.7 519.5,2836.7 520,2836.3 520.8,2834.8 521.8,2831.2 522.8,2825.7 523.8,2818.3 524.8,2809.2 525.8,2798.5 527.8,2772.4 529.5,2745.2 531.5,2710.2 540,2547.7 542.2,2510.4 544.2,2482.3 546.2,2460.2 547.2,2451.6 548,2446.4 549,2441 549.8,2438.1 550.2,2436.9 550.8,2436 551.2,2435.7 551.5,2435.7 552,2436.2 552.5,2437 553.5,2440.2 554.5,2445.4 555.5,2452.3 556.5,2461 557.5,2471.4 559.5,2496.9 561.5,2527.7 563.5,2562.7 570,2688.4 572.2,2729.6 574.5,2766.2 576.5,2793.1 577.8,2806.4 579.2,2819.9 580.8,2831.3 582,2839 583.5,2846.2 584.8,2850.3 585.2,2851.4 586,2852.4 586.5,2852.6 586.8,2852.6 587.2,2852.2 587.8,2851.3 588.2,2849.9 589.2,2845.8 590,2841.3 591,2833.4 592,2823.3 593,2811.2 595,2781.4 596.8,2750.2 598.5,2714.9 604.8,2576 607,2528.6 609,2491.2 611,2459.4 612.8,2437.1 613.8,2427.1 614.5,2420.8 615.5,2414.3 616.2,2410.9 616.8,2409.2 617.2,2408.1 617.8,2407.6 618,2407.6 618.5,2407.9 619,2408.7 620,2412 621,2417.6 622,2425.2 623,2434.8 624,2446.4 626.2,2479 628,2509.7 630,2549.3 636.5,2692.5 638.8,2739.7 641,2781.9 643,2813.5 645,2838.2 646,2847.8 646.8,2853.6 647.8,2859.5 648.5,2862.5 649,2863.8 649.5,2864.6 650,2864.8 650.2,2864.7 650.8,2864.1 651.2,2862.9 652.2,2859 653.2,2852.9 654.2,2844.7 655.2,2834.5 656.2,2822.4 658.2,2792.9 660,2762.1 662,2722.4 668.5,2579.2 670.8,2532.1 672.8,2494.3 674.8,2462.1 676.8,2436.5 677.8,2426.6 678.5,2420.4 679.5,2414.1 680.2,2410.7 680.8,2409.1 681.2,2408.1 681.8,2407.6 682,2407.6 682.5,2408 683,2408.9 684,2412.4 685,2418 686,2425.7 687,2435.5 688,2447.2 690.2,2480 692,2510.8 694,2550.6 700.5,2693.8 702.8,2740.9 705,2782.9 707,2814.3 709,2838.9 710,2848.3 710.8,2854 711.8,2859.7 712.5,2862.6 713,2863.9 713.5,2864.6 714,2864.8 714.2,2864.6 714.8,2864 715.2,2862.8 716.2,2858.7 717.2,2852.5 718.2,2844.1 719.2,2833.8 720.2,2821.6 722.2,2791.9 724,2761 726,2721.2 732.5,2577.9 734.8,2530.9 736.8,2493.3 738.8,2461.2 740.8,2435.9 741.8,2426 742.5,2420 743.5,2413.7 744.2,2410.5 744.8,2409 745.2,2408 745.8,2407.6 746,2407.6 746.5,2408.1 747,2409 748,2412.6 749,2418.4 750,2426.3 751,2436.1 752,2448 754.2,2481 756,2512 758,2551.8 764.5,2695.1 766.8,2742.1 769,2784 771,2815.2 773,2839.5 774,2848.8 774.8,2854.4 775.8,2860 776.5,2862.8 777,2864 777.5,2864.7 777.8,2864.8 778.2,2864.6 778.8,2863.9 779.2,2862.6 780.2,2858.4 781.2,2852 782.2,2843.6 783.2,2833.1 784.2,2820.8 786.2,2790.9 788,2759.9 790,2719.9 798.5,2534.7 800.8,2492.2 802.8,2460.3 804.8,2435.2 805.8,2425.5 806.5,2419.5 807.5,2413.4 808.2,2410.3 808.8,2408.8 809.2,2408 809.8,2407.6 810,2407.7 810.5,2408.2 811,2409.2 812,2412.9 813,2418.8 814,2426.8 815,2436.8 816,2448.7 818,2477.9 820,2513.1 822,2553.1 830.5,2738.3 832.8,2780.7 834.8,2812.5 836.8,2837.5 837.8,2847.2 838.5,2853.1 839.5,2859.1 840.2,2862.2 840.8,2863.6 841.2,2864.5 841.8,2864.8 842,2864.7 842.5,2864.2 843,2863.1 844,2859.3 845,2853.4 846,2845.3 847,2835.3 848,2823.3 850,2794.1 851.8,2763.4 853.8,2723.9 862.5,2533.5 864.8,2491.2 866.8,2459.5 868.5,2437.3 869.5,2427.2 870.2,2420.9 871.2,2414.4 872,2411 872.5,2409.3 873,2408.2 873.5,2407.7 873.8,2407.6 874.2,2407.9 874.8,2408.7 875.8,2412.1 876.8,2417.5 878,2427.3 879,2437.5 880.2,2452.8 881.5,2470.9 882.8,2491.5 884.5,2523.9 886.2,2559.6 894,2730 895.2,2763.4 898.8,2870.9 899.8,2896.6 900.8,2914.5 901.8,2926.5 902.5,2932.3 903,2934.8 903.5,2936.1 903.8,2936.5 904,2936.5 904.2,2936.4 904.8,2935.5 905.2,2933.9 906,2929.8 907,2921.8 908,2910.9 910,2882.1 912.2,2840.4 914.2,2796.6 916.2,2747.7 925.2,2506.6 927.2,2460 929.2,2420.1 931.2,2388.4 932.2,2376.1 933,2368.5 934,2360.6 934.8,2356.5 935.2,2354.5 935.8,2353.3 936.2,2352.7 936.5,2352.7 937,2353.1 937.5,2354.3 938.5,2358.6 939.5,2365.6 940.5,2375.2 941.5,2387.3 942.5,2401.8 944.8,2442.5 946.5,2480.8 948.5,2530.1 955,2707.8 957.2,2766.2 959.2,2812.9 961.2,2852.8 963.2,2884.4 964.2,2896.6 965,2904.2 966,2912 966.8,2916.1 967.2,2918 967.8,2919.2 968.2,2919.7 968.5,2919.7 969,2919.2 969.5,2918 970.5,2913.6 971.5,2906.6 972.5,2896.9 973.5,2884.7 974.5,2870.1 976.8,2829.2 978.5,2790.9 980.5,2741.5 987,2563.8 989.2,2505.4 991.2,2458.8 993.2,2419 995.2,2387.6 996.2,2375.5 997,2368 998,2360.2 998.8,2356.2 999.2,2354.4 999.8,2353.2 1000.2,2352.7 1000.5,2352.7 1001,2353.2 1001.5,2354.5 1002.5,2358.9 1003.5,2366.1 1004.5,2375.9 1005.5,2388.1 1006.5,2402.8 1008.8,2443.8 1010.5,2482.2 1012.5,2531.7 1021,2761.5 1023.2,2814.2 1025.2,2853.9 1027.2,2885.2 1028.2,2897.3 1029,2904.7 1030,2912.3 1030.8,2916.3 1031.2,2918.1 1031.8,2919.3 1032.2,2919.7 1032.5,2919.7 1033,2919.1 1033.5,2917.8 1034.5,2913.3 1035.5,2906 1036.5,2896.2 1037.5,2883.9 1038.5,2869.1 1040.5,2833.1 1042.5,2789.5 1044.5,2739.9 1051,2562.2 1053.2,2503.9 1055.2,2457.5 1057.2,2418 1059,2390.2 1060.8,2369.7 1061.8,2361.5 1062.5,2357.1 1063,2355 1063.5,2353.5 1064,2352.8 1064.2,2352.7 1064.8,2353 1065.2,2353.9 1065.8,2355.6 1066.2,2357.9 1067.2,2364.5 1068.2,2373.8 1069.2,2385.6 1070.2,2399.8 1072.5,2439.9 1074.5,2483.6 1076.5,2533.2 1085,2763 1087.2,2815.5 1089.2,2855 1091.2,2886 1092.2,2897.9 1093,2905.2 1094,2912.7 1094.8,2916.6 1095.2,2918.3 1095.8,2919.4 1096.2,2919.7 1096.5,2919.6 1097,2919 1097.5,2917.6 1098.5,2912.9 1099.5,2905.5 1100.5,2895.5 1101.5,2883 1102.5,2868.2 1104.5,2831.9 1106.2,2793.9 1108.2,2744.8 1117,2508.7 1119.2,2456.2 1121.2,2416.9 1123,2389.4 1124,2376.9 1124.8,2369.2 1125.8,2361.1 1126.5,2356.8 1127,2354.8 1127.5,2353.4 1128,2352.8 1128.2,2352.7 1128.8,2353 1129.2,2354.1 1130.2,2358.2 1131.2,2365 1132.2,2374.4 1133.2,2386.4 1134.2,2400.8 1136.5,2441.1 1138.2,2479.2 1140.2,2528.3 1149,2764.5 1151.2,2816.8 1153.2,2856 1155,2883.4 1156,2895.8 1156.8,2903.5 1157.8,2911.5 1158.5,2915.7 1159,2917.7 1159.5,2919 1160,2919.7 1160.2,2919.7 1160.8,2919.3 1161.2,2918.2 1162.2,2914 1163.2,2907.1 1164.2,2897.6 1165.2,2885.6 1166.2,2871.2 1168.5,2830.7 1170.2,2792.5 1172.2,2743.3 1178.8,2565.7 1181,2507.2 1183.2,2454.9 1185.2,2415.9 1187,2388.6 1188,2376.2 1188.8,2368.6 1189.8,2360.7 1190.5,2356.5 1191,2354.6 1191.5,2353.3 1192,2352.7 1192.2,2352.7 1192.8,2353.1 1193.2,2354.3 1194.2,2358.5 1195.2,2365.5 1196.2,2375.1 1197.2,2387.2 1198.2,2401.7 1200.2,2437.3 1202.2,2480.6 1204.2,2529.9 1212.8,2759.7 1213.8,2783 1214.8,2801.1 1216.2,2820.6 1217.5,2832.4 1219.5,2848.6 1222,2875.5 1222.8,2882.5 1223.5,2887.8 1224.5,2892.6 1225.2,2894.7 1225.8,2895.2 1226,2895.2 1226.5,2894.7 1226.8,2894.1 1227.2,2892.4 1227.8,2890 1228.8,2882.8 1229.5,2875.3 1231.2,2851 1233,2818.7 1234.8,2780 1236.5,2736.4 1242.8,2564.7 1245,2506.2 1247,2459.4 1249,2419.5 1251,2388 1252,2375.7 1252.8,2368.2 1253.8,2360.4 1254.5,2356.4 1255,2354.5 1255.5,2353.3 1255.8,2353 1256,2352.8 1256.2,2352.8 1256.8,2353.4 1257.2,2354.6 1258.2,2359.1 1259.2,2366.2 1260.2,2375.9 1261.2,2388.1 1262.2,2402.7 1264.5,2443.6 1266.2,2482 1268.2,2531.4 1276.8,2761.3 1279,2814 1281,2853.7 1283,2885 1284,2897.2 1284.8,2904.6 1285.8,2912.3 1286.5,2916.3 1287,2918.1 1287.5,2919.3 1288,2919.7 1288.2,2919.7 1288.8,2919.1 1289.2,2917.9 1290.2,2913.3 1291.2,2906.1 1292.2,2896.3 1293.2,2884 1294.2,2869.3 1296.2,2833.3 1298.2,2789.7 1300.2,2740.2 1306.8,2562.4 1309,2504.2 1311,2457.7 1313,2418.2 1314.8,2390.4 1316.5,2369.8 1317.5,2361.6 1318.2,2357.1 1318.8,2355 1319.2,2353.6 1319.8,2352.8 1320,2352.7 1320.5,2352.9 1321,2353.9 1321.5,2355.5 1322,2357.8 1323,2364.5 1324,2373.7 1325,2385.5 1326,2399.7 1328.2,2439.7 1330.2,2483.4 1332.2,2533 1340.8,2762.8 1343,2815.3 1345,2854.8 1347,2885.8 1348,2897.8 1348.8,2905.2 1349.8,2912.7 1350.5,2916.5 1351,2918.3 1351.5,2919.3 1352,2919.7 1352.2,2919.7 1352.8,2919 1353.2,2917.7 1354.2,2913 1355.2,2905.6 1356.2,2895.7 1357.2,2883.2 1358.2,2868.3 1360.2,2832.1 1362.2,2788.3 1364.2,2738.6 1372.8,2508.9 1375,2456.4 1377,2417.1 1378.8,2389.5 1379.8,2377 1380.5,2369.2 1381.5,2361.2 1382.2,2356.8 1382.8,2354.8 1383.2,2353.4 1383.8,2352.8 1384,2352.7 1384.5,2353 1385,2354.1 1385.5,2355.8 1386,2358.2 1387,2364.9 1388,2374.3 1389,2386.3 1390,2400.6 1392.2,2440.9 1394,2479 1396,2528.1 1404.8,2764.2 1407,2816.6 1409,2855.8 1410.8,2883.3 1411.8,2895.7 1412.5,2903.4 1413.5,2911.4 1414.2,2915.7 1414.8,2917.7 1415.2,2919 1415.8,2919.7 1416,2919.7 1416.5,2919.3 1417,2918.3 1418,2914.1 1419,2907.2 1420,2897.7 1421,2885.7 1422,2871.3 1424.2,2830.9 1426,2792.7 1428,2743.5 1434.5,2565.9 1436.8,2507.4 1439,2455.2 1441,2416 1442.8,2388.7 1443.8,2376.3 1444.5,2368.7 1445.5,2360.8 1446.2,2356.6 1446.8,2354.6 1447.2,2353.3 1447.8,2352.7 1448,2352.7 1448.5,2353.1 1449,2354.2 1450,2358.5 1451,2365.4 1452,2375 1453,2387.1 1454,2401.5 1456.2,2442.1 1458,2480.4 1460,2529.6 1466.5,2707.3 1468.8,2765.7 1471,2817.9 1473,2856.9 1474.8,2884.1 1475.8,2896.4 1476.5,2904 1477.5,2911.8 1478.2,2916 1478.8,2917.9 1479.2,2919.1 1479.8,2919.7 1480,2919.7 1480.5,2919.2 1481,2918.1 1482,2913.7 1483,2906.7 1484,2897.1 1485,2884.9 1486,2870.4 1488.2,2829.6 1490,2791.3 1492,2742 1498.5,2564.3 1500.8,2505.9 1502.8,2459.3 1504.8,2419.4 1506.8,2387.9 1507.8,2375.7 1508.5,2368.1 1509.5,2360.4 1510.2,2356.3 1510.8,2354.4 1511.2,2353.2 1511.8,2352.7 1512,2352.7 1512.2,2352.9 1512.8,2353.7 1513.2,2355.3 1513.8,2357.5 1514.8,2363.9 1515.8,2373 1516.8,2384.6 1517.8,2398.6 1519.8,2433.4 1521.8,2476 1523.8,2524.7 1531,2722.3 1533,2773.4 1535.5,2832 1537.2,2884 1538.5,2915.8 1539.5,2934 1540.5,2946.8 1541.5,2954.7 1542,2956.7 1542.5,2957.6 1542.8,2957.6 1543,2957.3 1543.5,2955.5 1544.2,2951.5 1545.2,2943.6 1546.2,2933.6 1548,2910.2 1550,2875.7 1552.2,2829.6 1554.8,2771.1 1557.2,2706.2 1563.5,2536 1565.2,2492.2 1567,2452.5 1569,2413.9 1570.8,2387.1 1571.8,2375 1572.8,2365.4 1573.8,2358.4 1574.5,2354.9 1575,2353.4 1575.5,2352.6 1575.8,2352.5 1576,2352.6 1576.5,2353.2 1577,2354.5 1577.5,2356.5 1578.5,2362.5 1579.5,2371 1580.5,2382.2 1582.5,2411.7 1584.5,2449.8 1586.8,2501.2 1589.2,2565.9 1595.8,2743.5 1597.8,2792.7 1599.5,2830.8 1601.8,2871.3 1602.8,2885.7 1603.8,2897.7 1604.8,2907.2 1605.8,2914.1 1606.8,2918.3 1607.2,2919.3 1607.8,2919.7 1608.2,2919.4 1608.8,2918.5 1609.2,2916.8 1609.8,2914.5 1610.8,2907.8 1611.8,2898.5 1612.8,2886.7 1613.8,2872.4 1616,2832.3 1617.8,2794.3 1619.8,2745.4 1626.5,2561.1 1628.8,2503 1631,2451.3 1633.2,2408.7 1634.5,2389.7 1635.5,2377.1 1636.8,2365 1637.8,2358.2 1638.2,2355.8 1638.8,2354.1 1639.2,2353 1639.8,2352.7 1640.2,2353 1640.8,2354 1641.2,2355.7 1642,2359.5 1642.8,2364.9 1643.5,2371.6 1645.2,2393 1647,2421.5 1649,2461.8 1652.2,2540.8 1660.2,2757.7 1662.2,2805.4 1664.2,2846.6 1666.2,2879.6 1668,2900.9 1669,2909.6 1670,2915.7 1670.5,2917.7 1671,2919 1671.5,2919.7 1671.8,2919.7 1672.2,2919.3 1672.8,2918.3 1673.8,2914.1 1674.8,2907.3 1675.8,2897.9 1676.8,2885.9 1677.8,2871.5 1680,2831.1 1681.8,2793 1683.8,2743.8 1690.2,2566.2 1692.5,2507.7 1694.8,2455.4 1696.8,2416.2 1698.5,2388.8 1699.5,2376.4 1700.2,2368.8 1701.2,2360.8 1702,2356.6 1702.5,2354.6 1703,2353.3 1703.5,2352.7 1703.8,2352.7 1704.2,2353.1 1704.8,2354.2 1705.8,2358.4 1706.8,2365.3 1707.8,2374.9 1708.8,2386.9 1709.8,2401.4 1712,2441.9 1713.8,2480.1 1715.8,2529.4 1722.2,2707 1724.5,2765.5 1726.8,2817.7 1728.8,2856.7 1730.5,2884 1731.5,2896.3 1732.2,2903.9 1733.2,2911.8 1734,2915.9 1734.5,2917.9 1735,2919.1 1735.5,2919.7 1735.8,2919.7 1736.2,2919.3 1736.8,2918.1 1737.8,2913.8 1738.8,2906.8 1739.8,2897.2 1740.8,2885.1 1741.8,2870.6 1744,2829.9 1745.8,2791.6 1747.8,2742.3 1754.2,2564.6 1756.5,2506.2 1758.5,2459.5 1760.5,2419.6 1762.5,2388 1763.5,2375.8 1764.2,2368.2 1765.2,2360.4 1766,2356.3 1766.5,2354.4 1767,2353.2 1767.5,2352.7 1767.8,2352.7 1768.2,2353.2 1768.8,2354.4 1769.8,2358.8 1770.8,2365.8 1771.8,2375.5 1772.8,2387.7 1773.8,2402.3 1776,2443.2 1777.8,2481.5 1779.8,2530.9 1786.2,2708.6 1788.5,2767 1790.5,2813.6 1792.5,2853.4 1794.5,2884.8 1795.5,2896.9 1796.2,2904.4 1797.2,2912.2 1798,2916.2 1798.5,2918 1799,2919.2 1799.5,2919.7 1799.8,2919.7 1800.2,2919.2 1800.8,2917.9 1801.8,2913.5 1802.8,2906.3 1803.8,2896.5 1804.8,2884.3 1805.8,2869.6 1808,2828.6 1809.8,2790.2 1811.8,2740.7 1820.2,2510.9 1822.5,2458.2 1824.5,2418.5 1826.2,2390.6 1828,2370 1829,2361.7 1829.8,2357.2 1830.2,2355.1 1830.8,2353.6 1831.2,2352.8 1831.5,2352.7 1832,2352.9 1832.5,2353.8 1833,2355.4 1833.5,2357.7 1834.5,2364.3 1835.5,2373.5 1836.5,2385.2 1837.5,2399.4 1839.8,2439.3 1841.5,2477.1 1843.5,2526 1850.5,2716.9 1853.5,2792.4" fill="none" stroke="#ff0000" stroke-width="5.3" stroke-linejoin="round" stroke-linecap="butt" shape-rendering="crispEdges"/>
<polyline points="255,2439.8 255.8,2443.3 256.8,2449.6 258.5,2464.8 260.2,2485.2 262,2510 263.8,2538.5 265.5,2569.9 273.2,2718.8 275.2,2752.8 277,2779 278.8,2801 280.2,2816 281.2,2823.8 282,2828.5 282.8,2832.2 283.5,2834.7 284,2835.9 284.5,2836.5 285,2836.7 285.5,2836.4 286,2835.5 286.5,2834.3 287.5,2830.3 288.5,2824.4 289.5,2816.7 290.5,2807.2 291.5,2796.2 293.8,2765.8 296,2729.1 298.2,2687.8 304.8,2562.2 306.8,2527.2 308.8,2496.5 310.8,2471.1 311.8,2460.7 312.8,2452.1 313.8,2445.2 314.8,2440.1 315.8,2437 316.2,2436.1 316.8,2435.7 317.2,2435.8 317.8,2436.4 318.2,2437.5 318.8,2439.1 319.8,2443.6 320.8,2450 321.8,2458.2 322.8,2468.1 325,2496.1 327,2526.8 329,2561.8 335.5,2687.4 338,2733 340.2,2769.2 342.5,2798.8 343.8,2812 344.8,2820.6 345.8,2827.4 346.8,2832.4 347.8,2835.5 348.2,2836.3 348.8,2836.7 349.2,2836.5 349.8,2835.9 350.2,2834.8 351,2832.2 351.8,2828.6 352.8,2822.2 354.5,2806.6 356.2,2786 358,2761 359.8,2732.4 361.5,2700.8 369.2,2552 371.2,2518.1 373.2,2488.8 375.2,2465.1 377,2449.7 378,2443.4 379,2438.9 379.5,2437.4 380,2436.4 380.5,2435.8 380.8,2435.7 381,2435.7 381.5,2436.2 382,2437.1 382.5,2438.4 383.2,2441.4 384.2,2447 385,2452.3 386,2461.1 387.8,2480.4 389.8,2508 392,2544.9 394.2,2586.3 400.8,2711.9 402.8,2746.7 404.5,2773.7 406.8,2802.3 407.8,2812.5 408.8,2821 409.8,2827.8 410.8,2832.6 411.8,2835.6 412.2,2836.4 412.8,2836.7 413.2,2836.5 413.8,2835.8 414.2,2834.6 414.8,2833 415.8,2828.3 416.8,2821.7 417.8,2813.4 418.8,2803.3 421,2775 422.8,2748.2 424.8,2713.6 431.5,2583.3 433.8,2542.2 436,2505.6 438,2478.4 440,2457.3 441,2449.3 442,2443.1 443,2438.7 443.5,2437.3 444,2436.3 444.5,2435.8 444.8,2435.7 445.2,2435.9 445.8,2436.7 446.5,2438.6 447.5,2442.9 448.5,2449.1 449.5,2457 451.5,2478 453.5,2505.1 455.2,2533 457,2564 463.2,2684.9 465.5,2726.4 467.5,2759.6 469.5,2788.1 471.5,2810.7 472.5,2819.6 473.2,2825 474.2,2830.7 475,2833.8 475.5,2835.2 476,2836.2 476.5,2836.6 476.8,2836.7 477.2,2836.4 477.8,2835.7 478.8,2832.8 479.8,2828 480.8,2821.3 481.8,2812.8 482.8,2802.7 485,2774.1 486.8,2747.2 488.8,2712.5 495.2,2586.9 497.8,2541.1 500,2504.7 502,2477.7 504,2456.8 505,2448.9 505.8,2444.1 506.8,2439.4 507.2,2437.8 507.8,2436.6 508.2,2435.9 508.8,2435.7 509,2435.8 509.5,2436.3 510.2,2438 511.2,2442 512.2,2447.8 513.2,2455.4 514.2,2464.7 515.2,2475.8 517.2,2502.3 519,2529.8 521,2565.1 527.2,2686.1 529.5,2727.5 531.5,2760.6 533.5,2788.9 535.5,2811.3 536.5,2820 537.2,2825.4 538.2,2831 539,2834 539.5,2835.3 540,2836.2 540.5,2836.7 540.8,2836.7 541.2,2836.4 541.8,2835.6 542.8,2832.5 543.8,2827.6 544.8,2820.8 545.8,2812.3 546.8,2802 549,2773.3 550.8,2746.2 552.8,2711.4 559.2,2585.7 561.5,2544.4 563.8,2507.6 565.8,2480 567.8,2458.5 568.8,2450.2 569.5,2445.2 570.5,2440.2 571.5,2437 572,2436.1 572.5,2435.7 572.8,2435.7 573.2,2436.1 573.8,2436.9 574.2,2438.2 575.2,2442.3 578,2458.9 579,2466 580.2,2476.4 581.5,2488.3 584.2,2519.5 586.8,2554.8 588.8,2588.8 590.8,2627.7 596.5,2746.8 598.2,2779.4 600,2808 602,2834.5 603.8,2851.5 604.8,2858.3 605.5,2861.9 606,2863.7 606.5,2864.8 607,2865.5 607.2,2865.6 607.8,2865.3 608.2,2864.6 608.8,2863.2 609.2,2861.3 610.2,2855.9 611.2,2848.4 612.2,2838.9 613.2,2827.4 615.5,2795.1 617.5,2759.9 619.5,2719.9 626,2576.5 628.2,2529.6 630.5,2487.8 632.5,2456.7 634.5,2432.5 635.5,2423.3 636.2,2417.8 637.2,2412.2 638,2409.5 638.5,2408.3 639,2407.7 639.2,2407.6 639.8,2407.8 640.2,2408.6 640.8,2409.9 641.8,2414.2 642.8,2420.7 643.8,2429.2 644.8,2439.7 645.8,2452.1 647.8,2482.1 649.5,2513.2 651.5,2553.2 660,2738.5 662,2776.4 664,2809 666,2834.9 667.8,2851.3 668.8,2857.8 669.5,2861.4 670,2863 670.5,2864.1 671,2864.7 671.2,2864.8 671.8,2864.5 672.2,2863.7 673.2,2860.5 674.2,2855 675.2,2847.5 676.2,2837.9 677.2,2826.4 679.5,2793.9 681.2,2763.3 683.2,2723.8 692,2533.3 694.2,2491.1 696.2,2459.4 698.2,2434.5 699.2,2424.9 700,2419.1 701,2413.1 702,2409.3 702.5,2408.2 703,2407.7 703.2,2407.6 703.8,2407.9 704.2,2408.8 704.8,2410.1 705.8,2414.6 706.8,2421.1 707.8,2429.7 708.8,2440.4 709.8,2452.9 711.8,2483.1 713.5,2514.4 715.5,2554.5 721.8,2692.4 724,2739.7 726,2777.5 728,2809.8 730,2835.5 731,2845.5 731.8,2851.7 732.8,2858.2 733.5,2861.6 734,2863.2 734.5,2864.2 735,2864.7 735.2,2864.8 735.8,2864.5 736.2,2863.6 737.2,2860.2 738.2,2854.6 739.2,2847 740.2,2837.3 741.2,2825.6 743.5,2793 745.2,2762.2 747.2,2722.5 753.8,2579.3 756,2532.1 758.2,2490 760.2,2458.5 762.2,2433.9 763.2,2424.4 764,2418.7 765,2412.8 765.8,2409.9 766.2,2408.6 766.8,2407.8 767.2,2407.6 767.5,2407.7 768,2408.4 768.5,2409.6 769.5,2413.6 770.5,2419.7 771.5,2427.9 772.5,2438.2 773.5,2450.4 775.5,2479.9 777.2,2510.8 779.2,2550.5 785.8,2693.7 788,2740.9 790,2778.5 792,2810.7 794,2836.2 795,2846.1 795.8,2852.2 796.8,2858.5 797.5,2861.8 798,2863.3 798.5,2864.3 799,2864.8 799.2,2864.8 799.8,2864.4 800.2,2863.4 801.2,2859.9 802.2,2854.2 803.2,2846.4 804.2,2836.6 805.2,2824.9 807.5,2792 809.2,2761.1 811.2,2721.3 817.8,2578 820,2530.9 822.2,2489 824.2,2457.7 826.2,2433.2 827.2,2423.9 828,2418.2 829,2412.5 829.8,2409.7 830.2,2408.4 830.8,2407.8 831,2407.6 831.5,2407.8 832,2408.5 832.5,2409.7 833.5,2413.9 834.5,2420.1 835.5,2428.5 836.5,2438.9 837.5,2451.1 839.5,2480.9 841.2,2511.9 843.2,2551.8 851.8,2737 854,2779.6 856,2811.6 857.8,2834.1 859.5,2850.7 860.5,2857.4 861.2,2861.1 861.8,2862.8 862.2,2864 862.8,2864.7 863,2864.8 863.5,2864.6 864,2863.9 864.5,2862.6 865,2860.7 866,2855.5 867,2848.1 868,2838.6 869,2827.2 871.2,2795.1 873.2,2759.9 875.2,2720 881.8,2576.7 884,2529.8 886.2,2488 888.5,2453.4 890.2,2432.6 891.8,2419.6 892.8,2413.5 893.8,2409.4 894.2,2406.7 896,2393.4 896.8,2389 897.5,2385.9 897.8,2385.5 898,2385.5 898.5,2386.4 899,2388.4 899.5,2392 900,2397.6 901.2,2417.4 902.5,2443.6 905,2506.8 913,2729.6 915.5,2791.1 917.8,2838.7 919.8,2873.2 920.8,2887.2 921.8,2898.9 922.8,2908.1 923.8,2914.8 924.2,2917.1 924.8,2918.7 925.2,2919.7 925.8,2920 926.2,2919.6 926.8,2918.6 927.8,2914.4 928.8,2907.6 929.8,2898.2 930.8,2886.3 931.8,2872 934,2831.7 935.8,2793.7 937.8,2744.7 946.5,2508.5 948.8,2456.1 950.8,2416.8 952.8,2386 953.8,2374.1 954.5,2366.8 955.5,2359.5 956.2,2355.7 956.8,2354 957.2,2353 957.8,2352.7 958,2352.8 958.5,2353.5 959,2354.9 960,2359.7 961,2367.2 962,2377.3 963,2389.9 964,2404.8 966,2441.3 967.8,2479.4 969.8,2528.5 976.2,2706.1 978.5,2764.7 980.5,2811.5 982.5,2851.7 984.5,2883.5 985.5,2895.9 986.2,2903.6 987.2,2911.5 988,2915.8 988.5,2917.8 989,2919.1 989.5,2919.7 989.8,2919.7 990.2,2919.3 990.8,2918.2 991.8,2914 992.8,2907.1 993.8,2897.6 994.8,2885.5 995.8,2871.1 998,2830.5 999.8,2792.3 1001.8,2743.1 1008.2,2565.5 1010.5,2507 1012.8,2454.8 1014.8,2415.7 1016.8,2385.2 1017.8,2373.5 1018.5,2366.3 1019.5,2359.1 1020.2,2355.4 1020.8,2353.8 1021.2,2352.9 1021.8,2352.7 1022,2352.8 1022.5,2353.6 1023,2355.1 1024,2360.1 1025,2367.7 1026,2378 1027,2390.7 1028,2405.8 1030,2442.5 1031.8,2480.8 1033.8,2530.1 1040.2,2707.7 1042.5,2766.1 1044.5,2812.9 1046.5,2852.8 1048.5,2884.3 1049.5,2896.6 1050.2,2904.1 1051.2,2911.9 1052,2916 1052.5,2917.9 1053,2919.2 1053.5,2919.7 1053.8,2919.7 1054.2,2919.2 1054.8,2918 1055.8,2913.6 1056.8,2906.6 1057.8,2896.9 1058.8,2884.7 1059.8,2870.1 1062,2829.3 1063.8,2790.9 1065.8,2741.6 1072.2,2563.9 1074.5,2505.5 1076.5,2458.9 1078.5,2419.1 1080.5,2387.7 1081.5,2375.5 1082.2,2368 1083.2,2360.3 1084,2356.2 1084.5,2354.4 1085,2353.2 1085.5,2352.7 1085.8,2352.7 1086.2,2353.2 1086.8,2354.5 1087.8,2358.9 1088.8,2366.1 1089.8,2375.8 1090.8,2388.1 1091.8,2402.7 1094,2443.7 1095.8,2482.2 1097.8,2531.6 1106.2,2761.4 1108.5,2814.2 1110.5,2853.8 1112.2,2881.7 1114,2902.4 1115,2910.7 1115.8,2915.2 1116.2,2917.3 1116.8,2918.8 1117.2,2919.6 1117.5,2919.7 1118,2919.5 1118.5,2918.6 1119,2917 1119.5,2914.7 1120.5,2908.1 1121.5,2898.9 1122.5,2887.2 1123.5,2873.1 1125.8,2833.2 1127.8,2789.5 1129.8,2740 1136.2,2562.3 1138.5,2504 1140.5,2457.6 1142.5,2418 1144.5,2386.9 1145.5,2374.8 1146.2,2367.5 1147.2,2359.9 1148,2356 1148.5,2354.2 1149,2353.1 1149.5,2352.7 1149.8,2352.7 1150.2,2353.3 1150.8,2354.6 1151.8,2359.3 1152.8,2366.6 1153.8,2376.5 1154.8,2388.9 1155.8,2403.7 1157.8,2439.9 1159.8,2483.6 1161.8,2533.2 1170.2,2762.9 1172.5,2815.5 1174.5,2854.9 1176.2,2882.5 1178,2902.9 1179,2911.1 1179.8,2915.4 1180.2,2917.5 1180.8,2918.9 1181.2,2919.6 1181.5,2919.7 1181.8,2919.7 1182.2,2919 1182.8,2917.7 1183.2,2915.6 1184,2911.3 1185,2903.3 1185.8,2895.6 1186.8,2883.1 1188.5,2855.6 1190.5,2816.3 1192.8,2763.9 1201.5,2527.7 1203.5,2478.7 1205.2,2440.7 1207.2,2404.3 1208.2,2389.4 1209.2,2376.9 1210.2,2366.9 1211.2,2359.5 1212.2,2354.8 1212.8,2353.4 1213,2353 1213.2,2352.8 1213.5,2353.2 1213.8,2354 1214.5,2358.5 1216,2374.4 1221.5,2450.1 1222.5,2465.8 1223.8,2488.7 1225.5,2525.9 1227.2,2568.5 1233,2726 1235,2777.7 1237,2823.7 1238.8,2857.6 1240.5,2884.7 1241.5,2896.9 1242.2,2904.3 1243.2,2911.9 1244,2915.7 1244.8,2918.1 1245.2,2918.8 1245.5,2918.9 1246,2918.6 1246.5,2917.6 1247,2915.8 1247.5,2913.5 1248.5,2906.7 1249.5,2897.2 1250.5,2885.3 1251.5,2870.9 1253.8,2830.4 1255.5,2792.3 1257.5,2743.1 1266.2,2507.2 1268.5,2455 1270.5,2415.9 1272.2,2388.6 1273.2,2376.3 1274,2368.6 1275,2360.7 1275.8,2356.5 1276.2,2354.6 1276.8,2353.3 1277.2,2352.7 1277.5,2352.7 1278,2353.1 1278.5,2354.2 1279.5,2358.5 1280.5,2365.5 1281.5,2375.1 1282.5,2387.1 1283.5,2401.6 1285.8,2442.3 1287.5,2480.5 1289.5,2529.8 1296,2707.5 1298.2,2765.9 1300.5,2818 1302.5,2857 1304.2,2884.2 1305.2,2896.5 1306,2904 1307,2911.9 1307.8,2916 1308.2,2917.9 1308.8,2919.1 1309.2,2919.7 1309.5,2919.7 1310,2919.2 1310.5,2918.1 1311.5,2913.7 1312.5,2906.7 1313.5,2897 1314.5,2884.9 1315.5,2870.3 1317.8,2829.5 1319.5,2791.2 1321.5,2741.8 1328,2564.1 1330.2,2505.8 1332.2,2459.1 1334.2,2419.3 1336.2,2387.8 1337.2,2375.6 1338,2368.1 1339,2360.3 1339.8,2356.3 1340.2,2354.4 1340.8,2353.2 1341.2,2352.7 1341.5,2352.7 1342,2353.2 1342.5,2354.4 1343.5,2358.9 1344.5,2366 1345.5,2375.7 1346.5,2387.9 1347.5,2402.6 1349.8,2443.5 1351.5,2481.9 1353.5,2531.3 1362,2761.2 1364.2,2813.9 1366.2,2853.7 1368,2881.6 1369.8,2902.3 1370.8,2910.6 1371.5,2915.1 1372,2917.3 1372.5,2918.8 1373,2919.6 1373.2,2919.7 1373.8,2919.5 1374.2,2918.6 1374.8,2917 1375.2,2914.7 1376.2,2908.2 1377.2,2899.1 1378.2,2887.4 1379.2,2873.2 1381.5,2833.4 1383.5,2789.8 1385.5,2740.3 1392,2562.5 1394.2,2504.3 1396.2,2457.8 1398.2,2418.2 1400.2,2387 1401.2,2374.9 1402,2367.5 1403,2360 1403.8,2356 1404.2,2354.2 1404.8,2353.1 1405.2,2352.7 1405.5,2352.7 1406,2353.3 1406.5,2354.6 1407.5,2359.2 1408.5,2366.5 1409.5,2376.4 1410.5,2388.8 1411.5,2403.5 1413.5,2439.6 1415.5,2483.3 1417.5,2532.9 1424,2710.7 1426.2,2768.9 1428.2,2815.2 1430.2,2854.7 1432,2882.4 1433.8,2902.8 1434.8,2911 1435.5,2915.4 1436,2917.5 1436.5,2918.9 1437,2919.6 1437.2,2919.7 1437.8,2919.4 1438.2,2918.4 1438.8,2916.8 1439.2,2914.4 1440.2,2907.7 1441.2,2898.4 1442.2,2886.6 1443.2,2872.3 1445.5,2832.1 1447.5,2788.4 1449.5,2738.7 1458,2509 1460.2,2456.5 1462.2,2417.1 1464.2,2386.2 1465.2,2374.3 1466,2367 1467,2359.6 1467.8,2355.8 1468.2,2354 1468.8,2353 1469.2,2352.7 1469.5,2352.8 1470,2353.4 1470.5,2354.8 1471.5,2359.6 1472.5,2367 1473.5,2377 1474.5,2389.6 1475.5,2404.5 1477.5,2440.9 1479.2,2478.9 1481.2,2528 1490,2764.2 1492.2,2816.5 1494.2,2855.8 1496,2883.2 1497,2895.7 1497.8,2903.4 1498.8,2911.4 1499.5,2915.7 1500,2917.7 1500.5,2919 1501,2919.7 1501.2,2919.7 1501.8,2919.3 1502.2,2918.3 1503.2,2914.1 1504.2,2907.2 1505.2,2897.8 1506.2,2885.8 1507.2,2871.4 1509.5,2830.9 1511.2,2792.8 1513.2,2743.6 1519.8,2566 1522,2507.5 1524.2,2455.2 1526.2,2416.1 1528,2388.8 1529,2376.4 1529.8,2368.7 1530.8,2360.8 1531.5,2356.6 1532,2354.6 1532.5,2353.3 1533,2352.7 1533.2,2352.7 1533.5,2352.8 1534,2353.6 1535,2356.8 1535.5,2357.9 1535.8,2358.3 1536.5,2358.1 1536.8,2358.3 1537.2,2360 1538,2365.2 1538.5,2370.5 1539.5,2385.7 1540.8,2410.6 1542.2,2447.1 1550.8,2689.4 1553.5,2760.2 1556,2816.9 1558.5,2863.8 1559.8,2882.5 1560.8,2895.1 1562,2907.4 1563,2914.3 1563.8,2917.8 1564.2,2919.3 1564.8,2920.2 1565.2,2920.3 1565.8,2919.8 1566.2,2918.7 1567.2,2914.3 1568.2,2907.2 1569.2,2897.6 1570.2,2885.4 1571.2,2870.9 1573.5,2830.2 1575.2,2791.9 1577.2,2742.2 1583.8,2564.4 1586,2506 1588,2459.3 1590,2419.5 1592,2387.9 1593,2375.7 1593.8,2368.2 1594.8,2360.4 1595.5,2356.3 1596,2354.4 1596.5,2353.2 1597,2352.7 1597.2,2352.7 1597.8,2353.2 1598.2,2354.4 1599.2,2358.8 1600.2,2365.9 1601.2,2375.6 1602.2,2387.8 1603.2,2402.4 1605.5,2443.3 1607.2,2481.7 1609.2,2531.1 1615.8,2708.8 1618,2767.1 1620,2813.7 1622,2853.5 1623.8,2881.4 1625.5,2902.2 1626.5,2910.5 1627.2,2915.1 1627.8,2917.2 1628.2,2918.7 1628.8,2919.6 1629,2919.7 1629.5,2919.5 1630,2918.6 1630.5,2917 1631,2914.8 1632,2908.3 1633,2899.2 1634,2887.5 1635,2873.4 1637.2,2833.6 1639.2,2790 1641.2,2740.5 1647.8,2562.8 1650,2504.5 1652,2458 1654,2418.4 1656,2387.1 1657,2375.1 1657.8,2367.6 1658.8,2360 1659.5,2356 1660,2354.2 1660.5,2353.1 1661,2352.7 1661.2,2352.7 1661.8,2353.3 1662.2,2354.6 1663.2,2359.2 1664.2,2366.4 1665.2,2376.3 1666.2,2388.6 1667.2,2403.4 1669.2,2439.4 1671.2,2483.1 1673.2,2532.6 1679.8,2710.4 1682,2768.6 1684,2815 1686,2854.5 1687.8,2882.3 1689.5,2902.7 1690.5,2910.9 1691.2,2915.3 1691.8,2917.4 1692.2,2918.9 1692.8,2919.6 1693,2919.7 1693.5,2919.4 1694,2918.5 1694.5,2916.8 1695,2914.5 1696,2907.8 1697,2898.5 1698,2886.7 1699,2872.5 1701.2,2832.3 1703.2,2788.6 1705.2,2739 1713.8,2509.2 1716,2456.7 1718,2417.3 1720,2386.3 1721,2374.4 1721.8,2367.1 1722.8,2359.6 1723.5,2355.8 1724,2354.1 1724.5,2353 1725,2352.7 1725.2,2352.8 1725.8,2353.4 1726.2,2354.8 1727.2,2359.5 1728.2,2366.9 1729.2,2376.9 1730.2,2389.4 1731.2,2404.3 1733.2,2440.7 1735,2478.7 1737,2527.7 1745.8,2763.9 1748,2816.3 1750,2855.6 1751.8,2883.1 1752.8,2895.6 1753.5,2903.3 1754.5,2911.3 1755.2,2915.6 1755.8,2917.7 1756.2,2919 1756.8,2919.7 1757,2919.7 1757.5,2919.4 1758,2918.3 1759,2914.2 1760,2907.3 1761,2897.9 1762,2885.9 1763,2871.5 1765.2,2831.1 1767,2793 1769,2743.9 1775.5,2566.3 1777.8,2507.7 1780,2455.4 1782,2416.3 1783.8,2388.9 1784.8,2376.5 1785.5,2368.8 1786.5,2360.9 1787.2,2356.6 1787.8,2354.6 1788.2,2353.3 1788.8,2352.7 1789,2352.7 1789.5,2353.1 1790,2354.2 1791,2358.4 1792,2365.3 1793,2374.8 1794,2386.9 1795,2401.3 1797.2,2441.9 1799,2480.1 1801,2529.3 1807.5,2706.9 1809.8,2765.4 1812,2817.6 1814,2856.7 1815.8,2883.9 1816.8,2896.3 1817.5,2903.9 1818.5,2911.7 1819.2,2915.9 1819.8,2917.9 1820.2,2919.1 1820.8,2919.7 1821,2919.7 1821.5,2919.3 1822,2918.1 1823,2913.8 1824,2906.8 1825,2897.2 1826,2885.1 1827,2870.6 1829.2,2829.9 1831,2791.6 1833,2742.3 1839.5,2564.7 1841.8,2506.3 1844,2454.2 1846,2415.2 1848,2384.8 1849,2373.1 1849.8,2366.1 1850.8,2358.9 1851.8,2354.5 1852.2,2353.2 1852.8,2352.7 1853,2352.7 1853.5,2353.2" fill="none" stroke="#77ac30" stroke-width="5.3" stroke-linejoin="round" stroke-linecap="butt" shape-rendering="crispEdges"/>
<text x="255" y="3084.4" font-size="51.5" font-weight="bold" text-anchor="middle" fill="#262626">0</text>
<text x="414.9" y="3084.4" font-size="51.5" font-weight="bold" text-anchor="middle" fill="#262626">0.05</text>
<text x="574.7" y="3084.4" font-size="51.5" font-weight="bold" text-anchor="middle" fill="#262626">0.1</text>
<text x="734.5" y="3084.4" font-size="51.5" font-weight="bold" text-anchor="middle" fill="#262626">0.15</text>
<text x="894.4" y="3084.4" font-size="51.5" font-weight="bold" text-anchor="middle" fill="#262626">0.2</text>
<text x="1054.2" y="3084.4" font-size="51.5" font-weight="bold" text-anchor="middle" fill="#262626">0.25</text>
<text x="1214.1" y="3084.4" font-size="51.5" font-weight="bold" text-anchor="middle" fill="#262626">0.3</text>
<text x="1374" y="3084.4" font-size="51.5" font-weight="bold" text-anchor="middle" fill="#262626">0.35</text>
<text x="1533.8" y="3084.4" font-size="51.5" font-weight="bold" text-anchor="middle" fill="#262626">0.4</text>
<text x="1693.7" y="3084.4" font-size="51.5" font-weight="bold" text-anchor="middle" fill="#262626">0.45</text>
<text x="1853.5" y="3084.4" font-size="51.5" font-weight="bold" text-anchor="middle" fill="#262626">0.5</text>
<text x="241.2" y="2951.9" font-size="51.5" font-weight="bold" text-anchor="end" fill="#262626">-100</text>
<text x="241.2" y="2803.8" font-size="51.5" font-weight="bold" text-anchor="end" fill="#262626">-50</text>
<text x="241.2" y="2655.6" font-size="51.5" font-weight="bold" text-anchor="end" fill="#262626">0</text>
<text x="241.2" y="2507.4" font-size="51.5" font-weight="bold" text-anchor="end" fill="#262626">50</text>
<text x="241.2" y="2359.2" font-size="51.5" font-weight="bold" text-anchor="end" fill="#262626">100</text>
<text x="1054.4" y="3149.4" font-size="56.5" font-weight="bold" text-anchor="middle" fill="#000" letter-spacing="0.2">time(s)</text>
<text transform="translate(127.7 2638) rotate(-90)" font-size="56.5" font-weight="bold" text-anchor="middle" fill="#000">Grid Side Currents (A)</text>
</g>
<text font-size="86" fill="#000" text-anchor="middle"><tspan x="977.1" y="3249.3">(</tspan><tspan x="1009.4" font-weight="bold">c</tspan><tspan x="1040.2">)</tspan></text>
</svg>
</body></html>
